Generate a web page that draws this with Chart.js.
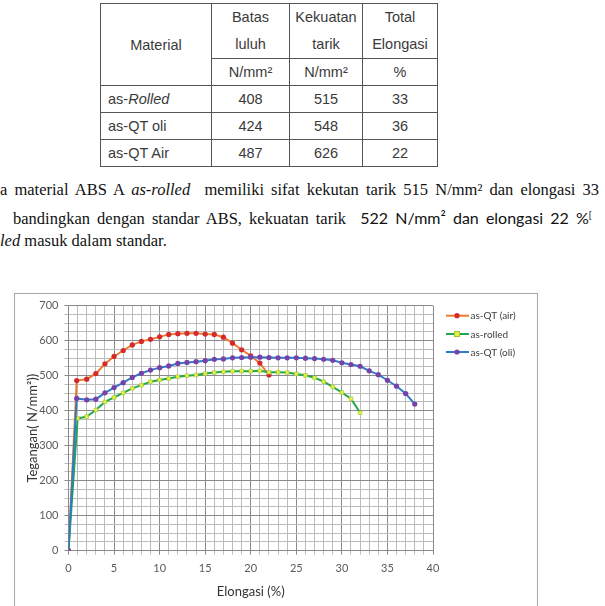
<!DOCTYPE html>
<html>
<head>
<meta charset="utf-8">
<script src="https://cdn.jsdelivr.net/npm/chart.js@4.4.0/dist/chart.umd.min.js"></script>
<style>
  html, body { margin:0; padding:0; background:#fff; width:605px; height:606px; overflow:hidden; }
  body { position:relative; }
  #tbl { position:absolute; left:100px; top:3px; border-collapse:collapse; table-layout:fixed;
         font-family:"Liberation Sans", Arial, sans-serif; font-size:14.5px; color:#3a3a3a; }
  #tbl td { border:1px solid #555; padding:0; text-align:center; vertical-align:middle; }
  #tbl td.l { text-align:left; padding-left:7px; }
  .hd { line-height:27px; }
  .para { position:absolute; white-space:nowrap; font-family:"Liberation Serif", "Times New Roman", serif; font-size:16.5px; color:#111; }
  .sans { font-family:Lato, "Open Sans", sans-serif; font-size:16px; }
  #frame { position:absolute; left:14px; top:293px; width:524px; height:330px; border:1px solid #a8a8a8; box-sizing:border-box; }
  #c { position:absolute; left:0; top:290px; }
</style>
</head>
<body>
<table id="tbl">
  <colgroup><col style="width:111px"><col style="width:78px"><col style="width:73px"><col style="width:75px"></colgroup>
  <tr style="height:53px"><td rowspan="2">Material</td><td class="hd">Batas<br>luluh</td><td class="hd">Kekuatan<br>tarik</td><td class="hd">Total<br>Elongasi</td></tr>
  <tr style="height:27px"><td>N/mm²</td><td>N/mm²</td><td>%</td></tr>
  <tr style="height:27px"><td class="l">as-<i>Rolled</i></td><td>408</td><td>515</td><td>33</td></tr>
  <tr style="height:27px"><td class="l">as-QT oli</td><td>424</td><td>548</td><td>36</td></tr>
  <tr style="height:27px"><td class="l">as-QT Air</td><td>487</td><td>626</td><td>22</td></tr>
</table>

<div class="para" style="left:0; top:180px; word-spacing:3px;">a material ABS A <i>as-rolled</i>&nbsp; memiliki sifat kekutan tarik 515 N/mm² dan elongasi 33</div>
<div class="para" style="left:13px; top:208px; word-spacing:3px;">bandingkan dengan standar ABS, kekuatan tarik&nbsp; <span class="sans">522 N/mm² dan elongasi 22 %</span><sup style="font-size:10px">[</sup></div>
<div class="para" style="left:0; top:231px;"><i>led</i> masuk dalam standar.</div>

<div id="frame"></div>
<canvas id="c" width="545" height="316" style="width:545px;height:316px"></canvas>

<script>
// ---- data ----
const airX    = [0, 0.9, 2, 3, 4, 5, 6, 7, 8, 9, 10, 11, 12, 13, 14, 15, 16, 17, 18, 19, 20, 21, 22];
const airY    = [0, 486, 490, 506, 534, 555, 572, 588, 598, 604, 611, 618, 620, 621, 621, 619, 618, 610, 593, 574, 557, 536, 502];
const rolledX = [0, 1, 2, 3, 4, 5, 6, 7, 8, 9, 10, 11, 12, 13, 14, 15, 16, 17, 18, 19, 20, 21, 22, 23, 24, 25, 26, 27, 28, 29, 30, 31, 32];
const rolledY = [0, 378, 383, 402, 425, 438, 451, 464, 473, 483, 488, 492, 497, 500, 502, 506, 509, 511, 513, 513, 513, 514, 510, 510, 509, 505, 501, 494, 483, 468, 452, 434, 394];
const oliX    = [0, 0.9, 2, 3, 4, 5, 6, 7, 8, 9, 10, 11, 12, 13, 14, 15, 16, 17, 18, 19, 20, 21, 22, 23, 24, 25, 26, 27, 28, 29, 30, 31, 32, 33, 34, 35, 36, 37, 38];
const oliY    = [0, 435, 431, 433, 451, 466, 480, 495, 507, 516, 523, 528, 535, 538, 540, 543, 547, 548, 551, 552, 553, 553, 552, 551, 551, 551, 550, 549, 547, 544, 537, 532, 527, 514, 503, 487, 470, 449, 419];
const seriesNames = ['as-QT (air)', 'as-rolled', 'as-QT (oli)'];
const xTickLabels = [0, 5, 10, 15, 20, 25, 30, 35, 40];
const yTickLabels = [0, 100, 200, 300, 400, 500, 600, 700];

const pts = (xs, ys) => xs.map((x, i) => ({x: x, y: ys[i]}));

const legendPlugin = {
  id: 'sideLegend',
  afterDraw(chart) {
    const ctx = chart.ctx;
    const ys = [25.7, 44, 62];
    const order = [0, 1, 2];
    ctx.save();
    order.forEach((di, k) => {
      const ds = chart.data.datasets[di];
      const y = ys[k];
      ctx.strokeStyle = ds.borderColor; ctx.lineWidth = 2;
      ctx.beginPath(); ctx.moveTo(446, y); ctx.lineTo(469, y); ctx.stroke();
      ctx.fillStyle = ds.pointBackgroundColor; ctx.strokeStyle = ds.pointBorderColor; ctx.lineWidth = 1;
      if (ds.pointStyle === 'rect') { ctx.fillRect(454.5, y - 2.5, 5, 5); ctx.strokeRect(454.5, y - 2.5, 5, 5); }
      else { ctx.beginPath(); ctx.arc(457, y, 2.6, 0, Math.PI * 2); ctx.fill(); }
      ctx.fillStyle = '#404040'; ctx.font = '10px Lato, sans-serif'; ctx.textBaseline = 'middle'; ctx.textAlign = 'left';
      ctx.fillText(ds.label, 470.5, y + 0.5);
    });
    ctx.restore();
  }
};

const majorX = '#8a8a8a', minorX = '#bcbcbc';

new Chart(document.getElementById('c'), {
  type: 'scatter',
  data: {
    datasets: [
      { label: seriesNames[0], data: pts(airX, airY), showLine: true, order: 2,
        borderColor: '#EE7A2E', borderWidth: 2, pointStyle: 'circle', pointRadius: 2.6,
        pointBackgroundColor: '#D42A2E', pointBorderColor: '#D42A2E', pointBorderWidth: 0 },
      { label: seriesNames[1], data: pts(rolledX, rolledY), showLine: true, order: 1,
        borderColor: '#1FA84E', borderWidth: 2, pointStyle: 'rect', pointRadius: 2.6,
        pointBackgroundColor: '#E8F03C', pointBorderColor: '#9CC73A', pointBorderWidth: 0.6 },
      { label: seriesNames[2], data: pts(oliX, oliY), showLine: true, order: 0,
        borderColor: '#2E7BC8', borderWidth: 2, pointStyle: 'circle', pointRadius: 2.6,
        pointBackgroundColor: '#7A40AA', pointBorderColor: '#7A40AA', pointBorderWidth: 0 }
    ]
  },
  options: {
    responsive: false, devicePixelRatio: 1, animation: false,
    layout: { padding: { left: 0, right: 112, top: 15.7, bottom: 0 } },
    plugins: { legend: { display: false }, tooltip: { enabled: false } },
    elements: { line: { tension: 0 } },
    scales: {
      x: {
        type: 'linear', min: 0, max: 40,
        afterFit(s) { s.height = 55.3; },
        afterBuildTicks(s) { s.ticks = []; for (let v = 0; v <= 40; v++) s.ticks.push({value: v}); },
        ticks: { autoSkip: false, maxRotation: 0, padding: 7, color: '#5a5a5a',
                 font: { family: 'Lato, sans-serif', size: 11 },
                 callback: v => xTickLabels.includes(v) ? String(v) : '' },
        grid: { color: c => (c.tick && c.tick.value % 5 === 0) ? majorX : minorX, lineWidth: 1, tickLength: 4,
                tickColor: c => (c.tick && c.tick.value % 5 === 0) ? majorX : minorX },
        border: { display: true, color: majorX },
        title: { display: true, text: 'Elongasi (%)', color: '#333', font: { family: 'Lato, sans-serif', size: 13 }, padding: { top: 0, bottom: 6 } }
      },
      y: {
        type: 'linear', min: 0, max: 700,
        afterFit(s) { s.width = 68.5; },
        afterBuildTicks(s) { s.ticks = []; for (let v = 0; v <= 700; v += 25) s.ticks.push({value: v}); },
        ticks: { autoSkip: false, padding: 6, color: '#5a5a5a',
                 font: { family: 'Lato, sans-serif', size: 11 },
                 callback: v => yTickLabels.includes(v) ? String(v) : '' },
        grid: { color: c => (c.tick && c.tick.value % 100 === 0) ? majorX : minorX, lineWidth: 1, tickLength: 4,
                tickColor: c => (c.tick && c.tick.value % 100 === 0) ? majorX : minorX },
        border: { display: true, color: majorX },
        title: { display: true, text: 'Tegangan( N/mm²))', color: '#333', font: { family: 'Lato, sans-serif', size: 13 }, padding: { top: 25, bottom: 0 } }
      }
    }
  },
  plugins: [legendPlugin]
});
</script>
</body>
</html>
